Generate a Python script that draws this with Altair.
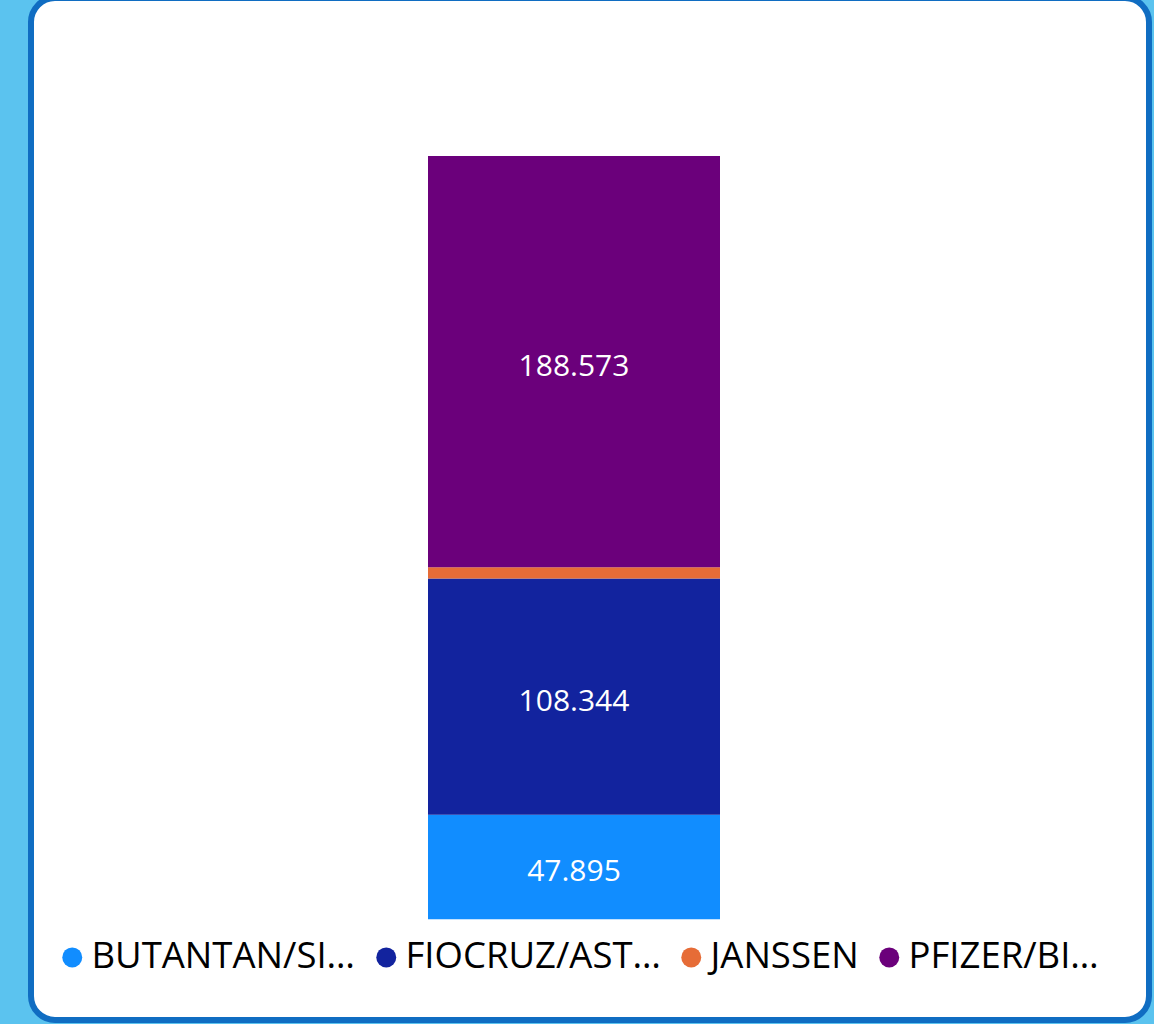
import altair as alt
import pandas as pd

# Data (thousands shown with Brazilian separator)
fabricantes = ["BUTANTAN/SINOVAC", "FIOCRUZ/ASTRAZENECA", "JANSSEN", "PFIZER/BIONTECH"]
legenda = ["BUTANTAN/SI…", "FIOCRUZ/AST…", "JANSSEN", "PFIZER/BI…"]
doses = [47895, 108344, 5100, 188573]
ordem = [0, 1, 2, 3]
cores = ["#118DFF", "#12239E", "#E66C37", "#6B007B"]

df = pd.DataFrame({
    "grupo": ["Total"] * len(fabricantes),
    "fabricante": fabricantes,
    "doses": doses,
    "ordem": ordem,
})

label_expr = " : ".join(
    [f"datum.label == '{f}' ? '{l}'" for f, l in zip(fabricantes, legenda)]
) + " : datum.label"

W, H = 1154, 1024

card = alt.Chart(pd.DataFrame({"c": [0]})).mark_rect(
    fill="white", stroke="#106DC2", strokeWidth=6, cornerRadius=24
).encode(
    x=alt.value(31), x2=alt.value(1149), y=alt.value(-2), y2=alt.value(1020)
)

base = alt.Chart(df).transform_stack(
    stack="doses", groupby=["grupo"], sort=[alt.SortField("ordem", order="ascending")],
    as_=["y0", "y1"]
).transform_calculate(
    mid="(datum.y0 + datum.y1) / 2",
    rotulo="replace(format(datum.doses, ',.0f'), /,/g, '.')"
)

xenc = alt.X("grupo:N", axis=None,
             scale=alt.Scale(range=[428, 720], paddingInner=0, paddingOuter=0))
yscale = alt.Scale(range=[919.3, 156], zero=True, nice=False)

bars = base.mark_bar(size=292).encode(
    x=xenc,
    y=alt.Y("y0:Q", axis=None, scale=yscale),
    y2="y1:Q",
    color=alt.Color(
        "fabricante:N",
        scale=alt.Scale(domain=fabricantes, range=cores),
        sort=fabricantes,
        legend=alt.Legend(
            title=None, orient="none", legendX=54, legendY=939,
            direction="horizontal", symbolType="circle", symbolSize=400,
            symbolStrokeWidth=0, labelFont="Open Sans", labelFontSize=36.5,
            labelColor="#000000", labelOffset=1, columnPadding=12,
            padding=0, labelLimit=0, labelExpr=label_expr,
        ),
    ),
)

texts = base.transform_filter("datum.doses >= 20000").mark_text(
    color="white", font="Open Sans", fontSize=30, baseline="middle", align="center",
    dy=5,
).encode(
    x=xenc,
    y=alt.Y("mid:Q", axis=None, scale=yscale),
    text="rotulo:N",
)

chart = alt.layer(card, bars, texts).properties(
    width=W, height=H, autosize=alt.AutoSizeParams(type="none"), padding=0,
    background="#5BC3EF",
).configure_view(stroke=None)

chart.save("out.html", embed_options={"renderer": "svg", "actions": False})
